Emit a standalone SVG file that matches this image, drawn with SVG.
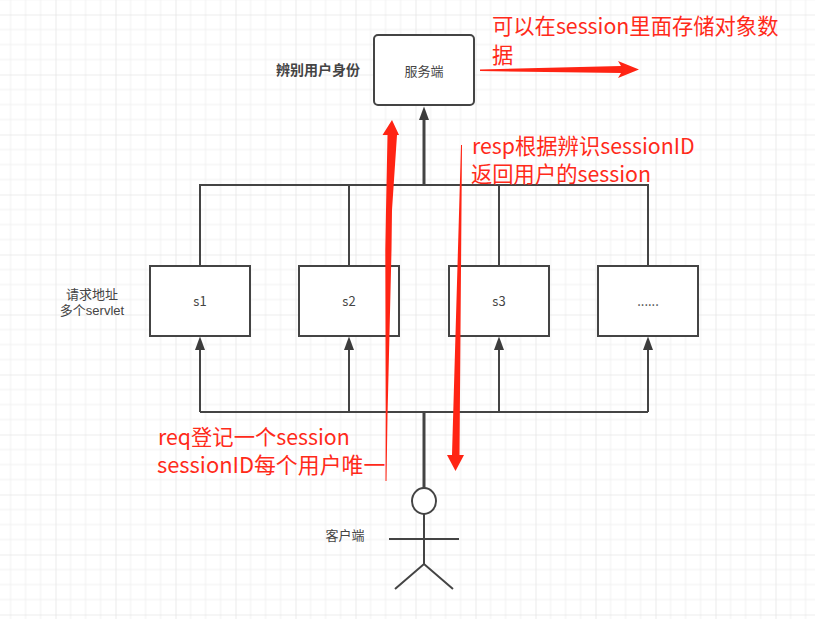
<svg xmlns="http://www.w3.org/2000/svg" width="815" height="619" viewBox="0 0 815 619">
<defs>
<pattern id="grid" width="60" height="60" patternUnits="userSpaceOnUse" x="-4.5" y="14.5">
<path d="M0 15H60M0 30H60M0 45H60M15 0V60M30 0V60M45 0V60" fill="none" stroke="#f0f0f0" stroke-width="1"/>
<path d="M0 0H60M0 0V60" fill="none" stroke="#e6e6e6" stroke-width="1.6"/>
</pattern>
<marker id="arr" markerUnits="userSpaceOnUse" markerWidth="14" markerHeight="10" refX="0" refY="5" orient="auto"><path d="M0 0L13.500 5L0 10Z" fill="#3c3c3c"/></marker>
</defs>
<style>
.box{fill:#fff;stroke:#444;stroke-width:2}
.ln{fill:none;stroke:#444;stroke-width:2}
.t{font-family:"Noto Sans CJK SC","Liberation Sans",sans-serif;font-size:13px;fill:#444;text-anchor:middle}
.tl{font-family:"Liberation Sans","Noto Sans CJK SC",sans-serif}
.r{font-family:"Noto Sans CJK SC","Liberation Sans",sans-serif;font-size:21.300px;fill:#ff2a1a}
.ra{fill:#ff2414}
</style>
<rect width="815" height="619" fill="#fff"/>
<rect width="815" height="619" fill="url(#grid)"/>
<g id="connectors">
<path class="ln" style="stroke-width:3" d="M424 185V120" marker-end="url(#arr)"/>
<path class="ln" d="M200 265V185H648V265M349 265V185M499 265V185"/>
<path class="ln" style="stroke-width:3" d="M424 488V412"/>
<path class="ln" d="M200 412H648"/>
<path class="ln" d="M200 412V350" marker-end="url(#arr)"/>
<path class="ln" d="M349 412V350" marker-end="url(#arr)"/>
<path class="ln" d="M499 412V350" marker-end="url(#arr)"/>
<path class="ln" d="M648 412V350" marker-end="url(#arr)"/>
</g>
<g id="server"><rect class="box" x="374" y="35" width="100" height="70" rx="4"/><text class="t" x="424" y="76">服务端</text></g>
<text class="t" x="318" y="75" style="font-weight:700;font-size:14px">辨别用户身份</text>
<g id="s1"><rect class="box" x="150" y="266" width="100" height="70"/><text class="t" x="200" y="306">s1</text></g>
<g id="s2"><rect class="box" x="299" y="266" width="100" height="70"/><text class="t" x="349" y="306">s2</text></g>
<g id="s3"><rect class="box" x="449" y="266" width="100" height="70"/><text class="t" x="499" y="306">s3</text></g>
<g id="s4"><rect class="box" x="598" y="266" width="100" height="70"/><text class="t" x="648" y="306">......</text></g>
<text class="t tl"><tspan x="92" y="299">请求地址</tspan><tspan x="92" y="315">多个servlet</tspan></text>
<g id="client">
<ellipse cx="424" cy="501" rx="12" ry="13" fill="#fff" stroke="#444" stroke-width="2"/>
<path class="ln" d="M424 514V564M389 539H459M395 589L424 564L453 589"/>
<text class="t" x="345" y="540">客户端</text>
</g>
<g id="annotations">
<path class="ra" d="M480 69.500L480 71L621 73L618 78L639 69.500L618 61L621 66Z"/>
<path class="ra" d="M385.500 481L386.500 481L387.500 416L391.500 250L392 210L397 135H399L392 120L382.500 135H387.500L386 210L385.300 250L385.700 416Z"/>
<path class="ra" d="M461 145L462 145L459.500 455H464L455.500 471L447 455H452Z"/>
<text class="r" x="492" y="34">可以在session里面存储对象数</text>
<text class="r" x="492" y="63">据</text>
<text class="r" x="472" y="154">resp根据辨识sessionID</text>
<text class="r" x="471" y="182">返回用户的session</text>
<text class="r" x="158" y="445">req登记一个session</text>
<text class="r" x="157" y="473" style="font-size:21.900px">sessionID每个用户唯一</text>
</g>
</svg>
